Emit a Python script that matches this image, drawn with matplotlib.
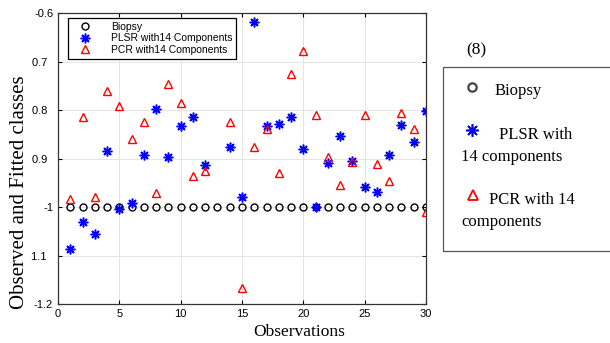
import matplotlib
matplotlib.use('Agg')
import matplotlib.pyplot as plt
from matplotlib.lines import Line2D
from matplotlib.patches import Rectangle
import numpy as np

obs = np.arange(1, 31)
biopsy = [-1.0] * 30
plsr = [-1.086, -1.030, -1.055, -0.885, -1.004, -0.992, -0.893, -0.798, -0.896, -0.832,
        -0.815, -0.914, np.nan, -0.876, -0.979, -0.617, -0.832, -0.828, -0.815, -0.880,
        -0.999, -0.910, -0.853, -0.904, -0.958, -0.968, -0.892, -0.830, -0.866, -0.801]
pcr = [-0.983, -0.814, -0.980, -0.760, -0.791, -0.860, -0.824, -0.970, -0.746, -0.785,
       -0.935, -0.925, np.nan, -0.825, -1.166, -0.876, -0.839, -0.929, -0.726, -0.678,
       -0.810, -0.896, -0.954, -0.907, -0.810, -0.912, -0.947, -0.806, -0.839, -1.011]
yticks = [-0.6, -0.7, -0.8, -0.9, -1.0, -1.1, -1.2]
ytick_labels = ['-0.6', '0.7  ', '0.8  ', '0.9  ', '-1', '1.1  ', '-1.2']
xticks = [0, 5, 10, 15, 20, 25, 30]

SANS = 'Liberation Sans'
SERIF = 'Liberation Serif'
ASTER = (8, 2, 0)   # matlab-style '*'

fig = plt.figure(figsize=(6.1, 3.43), dpi=100)
ax = fig.add_axes([58/610, 1-304/343, 368/610, 290.7/343])

ax.plot(obs, biopsy, 'o', ls='none', mfc='none', mec='black', ms=5, mew=1.0, label='Biopsy')
ax.plot(obs, plsr, marker=ASTER, ls='none', color='blue', ms=7, mew=1.1, label='PLSR with14 Components')
ax.plot(obs, pcr, '^', ls='none', mfc='none', mec='red', ms=6, mew=1.0, label='PCR with14 Components')

ax.set_xlim(0, 30); ax.set_ylim(-1.2, -0.6)
ax.set_xticks(xticks); ax.set_yticks(yticks)
ax.set_yticklabels(ytick_labels)
ax.tick_params(direction='in', top=True, right=True, labelsize=8, length=3, width=0.8)
for lab in ax.get_xticklabels() + ax.get_yticklabels():
    lab.set_family(SANS)
ax.grid(True, color='#e4e4e4', lw=0.7)
ax.set_axisbelow(True)
for s in ax.spines.values():
    s.set_linewidth(0.9); s.set_color('#333333')

ax.set_xlabel('Observations', family=SERIF, fontsize=12.5)
ax.xaxis.set_label_coords(0.655, -0.07)
ax.set_ylabel('Observed and Fitted classes', family=SERIF, fontsize=15)
ax.yaxis.set_label_coords(-0.079, 0.385)

leg = ax.legend(loc='upper left', bbox_to_anchor=(0.027, 0.984), prop={'family': SANS, 'size': 7.5},
                fancybox=False, edgecolor='black', framealpha=1, borderpad=0.4,
                labelspacing=0.12, handletextpad=1.2, borderaxespad=0, handlelength=2.5)
leg.get_frame().set_linewidth(0.9)

# side legend box from the page
W, H = 610, 343
fig.text(466/W, 1-50/H, '(8)', family=SERIF, fontsize=12.5, ha='left', va='center')
fig.add_artist(Rectangle((443/W, 1-251/H), 180/W, 184/H, transform=fig.transFigure,
                         fill=False, edgecolor='#555555', lw=0.9, clip_on=False))
fig.add_artist(Line2D([472/W], [1-87/H], marker='o', mfc='none', mec='#444444', ms=6, mew=1.6,
                      transform=fig.transFigure))
fig.add_artist(Line2D([472/W], [1-130/H], marker=ASTER, color='blue', ms=9, mew=1.2,
                      transform=fig.transFigure))
fig.add_artist(Line2D([473/W], [1-195/H], marker='^', mfc='none', mec='red', ms=7, mew=1.3,
                      transform=fig.transFigure))
fig.text(495/W, 1-91/H, 'Biopsy', family=SERIF, fontsize=12, va='center')
fig.text(499/W, 1-135/H, 'PLSR with', family=SERIF, fontsize=12, va='center')
fig.text(461/W, 1-157/H, '14 components', family=SERIF, fontsize=12, va='center')
fig.text(489/W, 1-200/H, 'PCR with 14', family=SERIF, fontsize=12, va='center')
fig.text(461/W, 1-222/H, 'components', family=SERIF, fontsize=12, va='center')

fig.savefig('out.png', dpi=100)
